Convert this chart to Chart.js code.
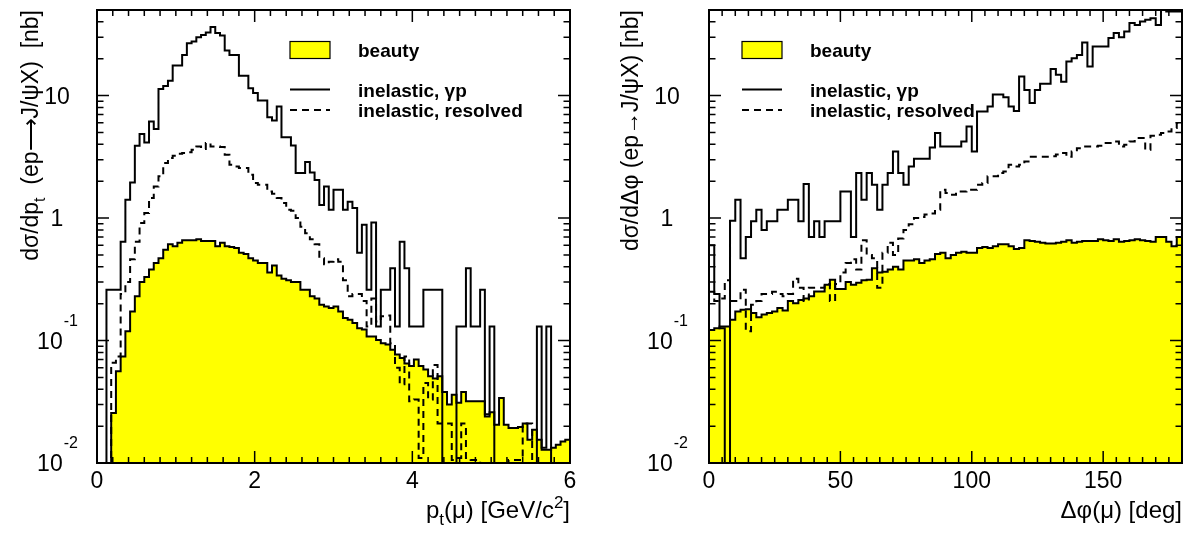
<!DOCTYPE html>
<html>
<head>
<meta charset="utf-8">
<script src="https://cdn.jsdelivr.net/npm/chart.js@4.4.1/dist/chart.umd.min.js"></script>
<style>
  html, body { margin: 0; padding: 0; background: #fff; }
  #wrap { position: relative; width: 1195px; height: 534px; }
  .pane { position: absolute; top: 0; height: 534px; }
  #p1 { left: 0; width: 600px; }
  #p2 { left: 600px; width: 595px; }
</style>
</head>
<body>
<div id="wrap">
  <div class="pane" id="p1"><canvas id="c1" width="600" height="534"></canvas></div>
  <div class="pane" id="p2"><canvas id="c2" width="595" height="534"></canvas></div>
</div>
<script>
const FONT = '"Liberation Sans", Arial, Helvetica, sans-serif';
const FLOOR = 1e-4;          // empty bins fall below the axis
const Y_MIN = 0.01, Y_MAX = 50;

const legendLabels = ['beauty', 'inelastic, γp', 'inelastic, resolved'];
const yTickValues = [0.01, 0.1, 1, 10];
const yTickLabels = [['10', '-2'], ['10', '-1'], ['1', ''], ['10', '']];

// p_t(mu): 100 bins of 0.06 GeV, 0..6
const PT_BIN = 0.06;
const ptInelastic = [
  0, 0, 0.26, 0.26, 0.26, 0.64, 1.41, 1.95, 3.89, 4.85,
  4.14, 6.15, 5.33, 11.3, 12.0, 13.2, 17.6, 17.6, 21.5, 26.8,
  27.7, 30.0, 31.3, 32.7, 36.3, 32.4, 30.9, 23.3, 21.5, 21.5,
  14.5, 14.5, 11.5, 10.5, 9.12, 9.12, 6.67, 6.26, 8.15, 4.58,
  4.58, 3.92, 2.33, 2.33, 2.87, 2.36, 2.05, 1.28, 1.81, 1.17,
  1.70, 1.70, 1.17, 1.36, 1.21, 0.52, 0.88, 0.26, 0.92, 0.13,
  0.26, 0.26, 0.39, 0.13, 0.64, 0.39, 0.13, 0.13, 0.13, 0.26,
  0.26, 0.26, 0.26, 0, 0, 0, 0.13, 0.13, 0.39, 0.13,
  0.13, 0.26, 0.025, 0.13, 0, 0, 0, 0, 0, 0,
  0, 0, 0, 0.13, 0.0133, 0.13, 0, 0, 0, 0
];
const ptResolved = [
  0, 0, 0, 0.066, 0.074, 0.24, 0.30, 0.46, 0.64, 0.91,
  1.10, 1.46, 1.81, 2.19, 2.81, 3.09, 3.23, 3.35, 3.40, 3.45,
  3.61, 3.84, 3.66, 4.10, 3.84, 3.84, 3.80, 3.29, 2.72, 2.64,
  2.56, 2.56, 2.26, 1.93, 1.87, 1.87, 1.65, 1.58, 1.46, 1.33,
  1.17, 1.15, 1.00, 0.85, 0.75, 0.67, 0.61, 0.47, 0.42, 0.44,
  0.46, 0.44, 0.31, 0.23, 0.24, 0.24, 0.21, 0.13, 0.22, 0.143,
  0.158, 0.16, 0.095, 0.06, 0.044, 0.074, 0.032, 0.033, 0.011, 0.045,
  0.033, 0.063, 0.021, 0.021, 0.021, 0.0106, 0.011, 0.021, 0.011, 0.0106,
  0.0106, 0, 0, 0, 0, 0, 0, 0.0106, 0.0106, 0.0106,
  0.021, 0.021, 0, 0, 0, 0, 0, 0, 0, 0
];
const ptBeauty = [
  0, 0, 0, 0.0256, 0.056, 0.074, 0.119, 0.173, 0.23, 0.30,
  0.33, 0.38, 0.43, 0.47, 0.55, 0.61, 0.59, 0.63, 0.66, 0.66,
  0.66, 0.67, 0.65, 0.65, 0.65, 0.59, 0.63, 0.59, 0.58, 0.57,
  0.52, 0.51, 0.47, 0.45, 0.43, 0.43, 0.36, 0.41, 0.34, 0.32,
  0.31, 0.30, 0.30, 0.26, 0.26, 0.23, 0.22, 0.196, 0.19, 0.184,
  0.19, 0.173, 0.153, 0.148, 0.139, 0.126, 0.123, 0.108, 0.108, 0.101,
  0.095, 0.093, 0.084, 0.077, 0.072, 0.065, 0.062, 0.070, 0.062, 0.058,
  0.051, 0.049, 0.051, 0.038, 0.030, 0.036, 0.031, 0.038, 0.032, 0.032,
  0.032, 0.032, 0.024, 0.026, 0.0205, 0.034, 0.0205, 0.0193, 0.0193, 0.0197,
  0.021, 0.0155, 0.0187, 0.0155, 0.0128, 0.0128, 0.0133, 0.0141, 0.015, 0.0155
];

// delta phi(mu): 90 bins of 2 deg, 0..180
const DPHI_BIN = 2;
const dphiInelastic = [
  0.6, 0.24, 0.126, 0, 0.95, 1.41, 0.47, 0.70, 0.94, 1.17,
  0.80, 0.94, 0.94, 1.17, 1.17, 1.41, 1.41, 0.94, 1.90, 0.70,
  0.94, 0.70, 0.94, 0.94, 0.94, 1.65, 1.65, 0.70, 2.33, 1.41,
  2.33, 1.87, 1.17, 1.87, 2.33, 3.50, 2.33, 1.87, 2.64, 3.05,
  3.05, 3.05, 3.77, 4.94, 3.84, 3.84, 3.84, 3.84, 4.22, 5.60,
  3.50, 7.41, 7.41, 8.15, 10.2, 10.2, 9.7, 8.15, 7.5, 14.3,
  11.1, 8.69, 11.1, 12.5, 12.5, 16.5, 14.8, 13.0, 19.0, 20.2,
  21.5, 27.1, 17.3, 25.2, 25.2, 25.2, 29.5, 32.4, 30.0, 33.4,
  39.1, 37.8, 40.3, 41.6, 42.9, 37.8, 60, 48.6, 48.6, 48.6
];
const dphiResolved = [
  0.25, 0.21, 0.22, 0.31, 0.21, 0.21, 0.26, 0.119, 0.196, 0.21,
  0.24, 0.24, 0.25, 0.24, 0.23, 0.24, 0.32, 0.27, 0.21, 0.27,
  0.27, 0.27, 0.29, 0.21, 0.29, 0.36, 0.43, 0.46, 0.38, 0.66,
  0.50, 0.47, 0.27, 0.52, 0.63, 0.50, 0.68, 0.80, 0.89, 1.00,
  1.02, 1.07, 1.09, 1.17, 1.70, 1.60, 1.55, 1.65, 1.65, 1.70,
  1.70, 1.87, 1.93, 2.19, 2.19, 2.33, 2.40, 2.72, 2.64, 2.72,
  2.90, 3.17, 3.17, 3.17, 3.17, 3.20, 3.30, 3.40, 3.17, 3.50,
  3.72, 3.84, 3.84, 3.84, 3.90, 4.10, 4.10, 4.22, 3.84, 3.97,
  4.22, 4.50, 4.50, 3.61, 4.70, 4.80, 4.94, 5.10, 5.43, 5.97
];
const dphiBeauty = [
  0.122, 0.126, 0.13, 0.13, 0.148, 0.173, 0.178, 0.18, 0.168, 0.155,
  0.163, 0.168, 0.173, 0.184, 0.176, 0.21, 0.202, 0.214, 0.22, 0.23,
  0.252, 0.252, 0.285, 0.314, 0.263, 0.263, 0.30, 0.285, 0.297, 0.31,
  0.314, 0.39, 0.36, 0.365, 0.38, 0.40, 0.38, 0.45, 0.45, 0.46,
  0.43, 0.45, 0.46, 0.51, 0.52, 0.47, 0.50, 0.52, 0.53, 0.52,
  0.52, 0.57, 0.58, 0.57, 0.59, 0.61, 0.61, 0.59, 0.56, 0.57,
  0.66, 0.65, 0.64, 0.63, 0.62, 0.62, 0.63, 0.64, 0.66, 0.63,
  0.64, 0.65, 0.65, 0.65, 0.67, 0.66, 0.65, 0.67, 0.64, 0.65,
  0.66, 0.67, 0.66, 0.65, 0.64, 0.70, 0.70, 0.64, 0.59, 0.70
];

const panels = [
  {
    canvas: 'c1', padRight: 30, yAxisWidth: 97,
    xMax: 6, xStep: 2, xMinor: 0.2,
    bin: PT_BIN, inelastic: ptInelastic, resolved: ptResolved, beauty: ptBeauty,
    yTitle: [{ t: 'dσ/dp' }, { t: 't', sub: true }, { t: '  (ep⟶J/ψX)  [nb]' }],
    xTitle: [{ t: 'p' }, { t: 't', sub: true }, { t: '(μ) [GeV/c' }, { t: '2', sup: true }, { t: ']' }],
    yTitleX: 38, yLabelCx: 57, legendLeft: 290
  },
  {
    canvas: 'c2', padRight: 13, yAxisWidth: 109,
    xMax: 180, xStep: 50, xMinor: 5,
    bin: DPHI_BIN, inelastic: dphiInelastic, resolved: dphiResolved, beauty: dphiBeauty,
    yTitle: [{ t: 'dσ/dΔφ (ep→J/ψX) [nb]' }],
    xTitle: [{ t: 'Δφ(μ) [deg]' }],
    yTitleX: 38, yLabelCx: 67, legendLeft: 142
  }
];

function histPoints(values, width) {
  const pts = values.map((v, i) => ({ x: i * width, y: v > 0 ? v : FLOOR }));
  pts.push({ x: values.length * width, y: pts[pts.length - 1].y });
  return pts;
}

function partFont(p, size, weight) {
  const s = (p.sub || p.sup) ? Math.round(size * 0.7) : size;
  return `${weight || 'normal'} ${s}px ${FONT}`;
}
function richWidth(ctx, parts, size, weight) {
  let w = 0;
  parts.forEach(p => { ctx.font = partFont(p, size, weight); w += ctx.measureText(p.t).width; });
  return w;
}
function drawRich(ctx, parts, x, y, size, weight) {
  parts.forEach(p => {
    ctx.font = partFont(p, size, weight);
    const dy = p.sub ? size * 0.3 : (p.sup ? -size * 0.42 : 0);
    ctx.fillText(p.t, x, y + dy);
    x += ctx.measureText(p.t).width;
  });
}

function makeDecor(panel) {
  return {
    id: 'decor',
    afterDraw(chart) {
      const { ctx, chartArea: a } = chart;
      const xs = chart.scales.x, ys = chart.scales.y;
      ctx.save();
      ctx.strokeStyle = '#000';
      ctx.fillStyle = '#000';
      ctx.textAlign = 'left';
      ctx.textBaseline = 'alphabetic';

      // frame
      ctx.lineWidth = 2;
      ctx.strokeRect(a.left, a.top, a.right - a.left, a.bottom - a.top);

      // inward tick marks
      ctx.lineWidth = 1.5;
      ctx.beginPath();
      const n = Math.round(panel.xMax / panel.xMinor);
      const perMajor = Math.round(panel.xStep / panel.xMinor);
      for (let i = 0; i <= n; i++) {
        const px = xs.getPixelForValue(i * panel.xMinor);
        const len = i % perMajor === 0 ? 12 : 6;
        ctx.moveTo(px, a.bottom); ctx.lineTo(px, a.bottom - len);
        ctx.moveTo(px, a.top); ctx.lineTo(px, a.top + len);
      }
      for (let e = -2; e <= 1; e++) {
        for (let m = 1; m <= 9; m++) {
          const v = m * Math.pow(10, e);
          if (v > Y_MAX) break;
          const py = ys.getPixelForValue(v);
          const len = m === 1 ? 12 : 6.5;
          ctx.moveTo(a.left, py); ctx.lineTo(a.left + len, py);
          ctx.moveTo(a.right, py); ctx.lineTo(a.right - len, py);
        }
      }
      ctx.stroke();

      // y tick labels with exponents
      yTickValues.forEach((v, i) => {
        const [base, exp] = yTickLabels[i];
        const py = ys.getPixelForValue(v);
        ctx.font = `23px ${FONT}`;
        const wb = ctx.measureText(base).width;
        ctx.font = `16px ${FONT}`;
        const we = exp ? ctx.measureText(exp).width : 0;
        const x0 = panel.yLabelCx - (wb + we) / 2;
        ctx.font = `23px ${FONT}`;
        ctx.fillText(base, x0, py + 8);
        if (exp) {
          ctx.font = `16px ${FONT}`;
          ctx.fillText(exp, x0 + wb + 1, py - 15);
        }
      });

      // x title, right aligned to the frame
      const xw = richWidth(ctx, panel.xTitle, 24);
      drawRich(ctx, panel.xTitle, a.right - xw, 518, 24);

      // y title, rotated, ending at the top of the frame
      ctx.save();
      ctx.translate(panel.yTitleX, a.top);
      ctx.rotate(-Math.PI / 2);
      const yw = richWidth(ctx, panel.yTitle, 23);
      drawRich(ctx, panel.yTitle, -yw, 0, 23);
      ctx.restore();

      // legend: beauty, inelastic gamma-p, inelastic resolved
      const order = [2, 0, 1];
      const rows = [50, 89.5, 110];
      order.forEach((di, r) => {
        const ds = chart.data.datasets[di];
        const cy = rows[r];
        const x = panel.legendLeft;
        if (ds.fill) {
          ctx.fillStyle = ds.backgroundColor;
          ctx.fillRect(x, cy - 8.5, 40, 17);
          ctx.lineWidth = 1.2;
          ctx.strokeRect(x, cy - 8.5, 40, 17);
        } else {
          ctx.lineWidth = 2;
          ctx.setLineDash(ds.borderDash || []);
          ctx.beginPath(); ctx.moveTo(x, cy); ctx.lineTo(x + 40, cy); ctx.stroke();
          ctx.setLineDash([]);
        }
        ctx.fillStyle = '#000';
        ctx.font = `bold 19px ${FONT}`;
        ctx.fillText(ds.label, x + 68, cy + 7);
      });
      ctx.restore();
    }
  };
}

function makeChart(panel) {
  const line = { borderColor: '#000', borderWidth: 2, stepped: 'before', pointRadius: 0, borderJoinStyle: 'miter' };
  return new Chart(document.getElementById(panel.canvas), {
    type: 'line',
    data: {
      datasets: [
        Object.assign({ label: legendLabels[1], data: histPoints(panel.inelastic, panel.bin), fill: false }, line),
        Object.assign({ label: legendLabels[2], data: histPoints(panel.resolved, panel.bin), fill: false, borderDash: [7, 5] }, line),
        Object.assign({ label: legendLabels[0], data: histPoints(panel.beauty, panel.bin), fill: 'start', backgroundColor: '#ffff00' }, line)
      ]
    },
    options: {
      responsive: false,
      animation: false,
      events: [],
      layout: { padding: { left: 0, top: 10, right: panel.padRight, bottom: 0 } },
      plugins: { legend: { display: false }, tooltip: { enabled: false } },
      scales: {
        x: {
          type: 'linear', min: 0, max: panel.xMax,
          grid: { display: false, drawTicks: false },
          border: { display: false },
          ticks: { stepSize: panel.xStep, includeBounds: false, color: '#000', padding: 5, font: { family: FONT, size: 23 }, maxRotation: 0 },
          afterFit(scale) { scale.height = 71; scale.paddingLeft = 0; scale.paddingRight = 0; }
        },
        y: {
          type: 'logarithmic', min: Y_MIN, max: Y_MAX,
          grid: { display: false, drawTicks: false },
          border: { display: false },
          ticks: { display: false },
          afterFit(scale) { scale.width = panel.yAxisWidth; scale.paddingTop = 0; scale.paddingBottom = 0; }
        }
      }
    },
    plugins: [makeDecor(panel)]
  });
}

Chart.defaults.color = '#000';
panels.forEach(makeChart);
</script>
</body>
</html>
